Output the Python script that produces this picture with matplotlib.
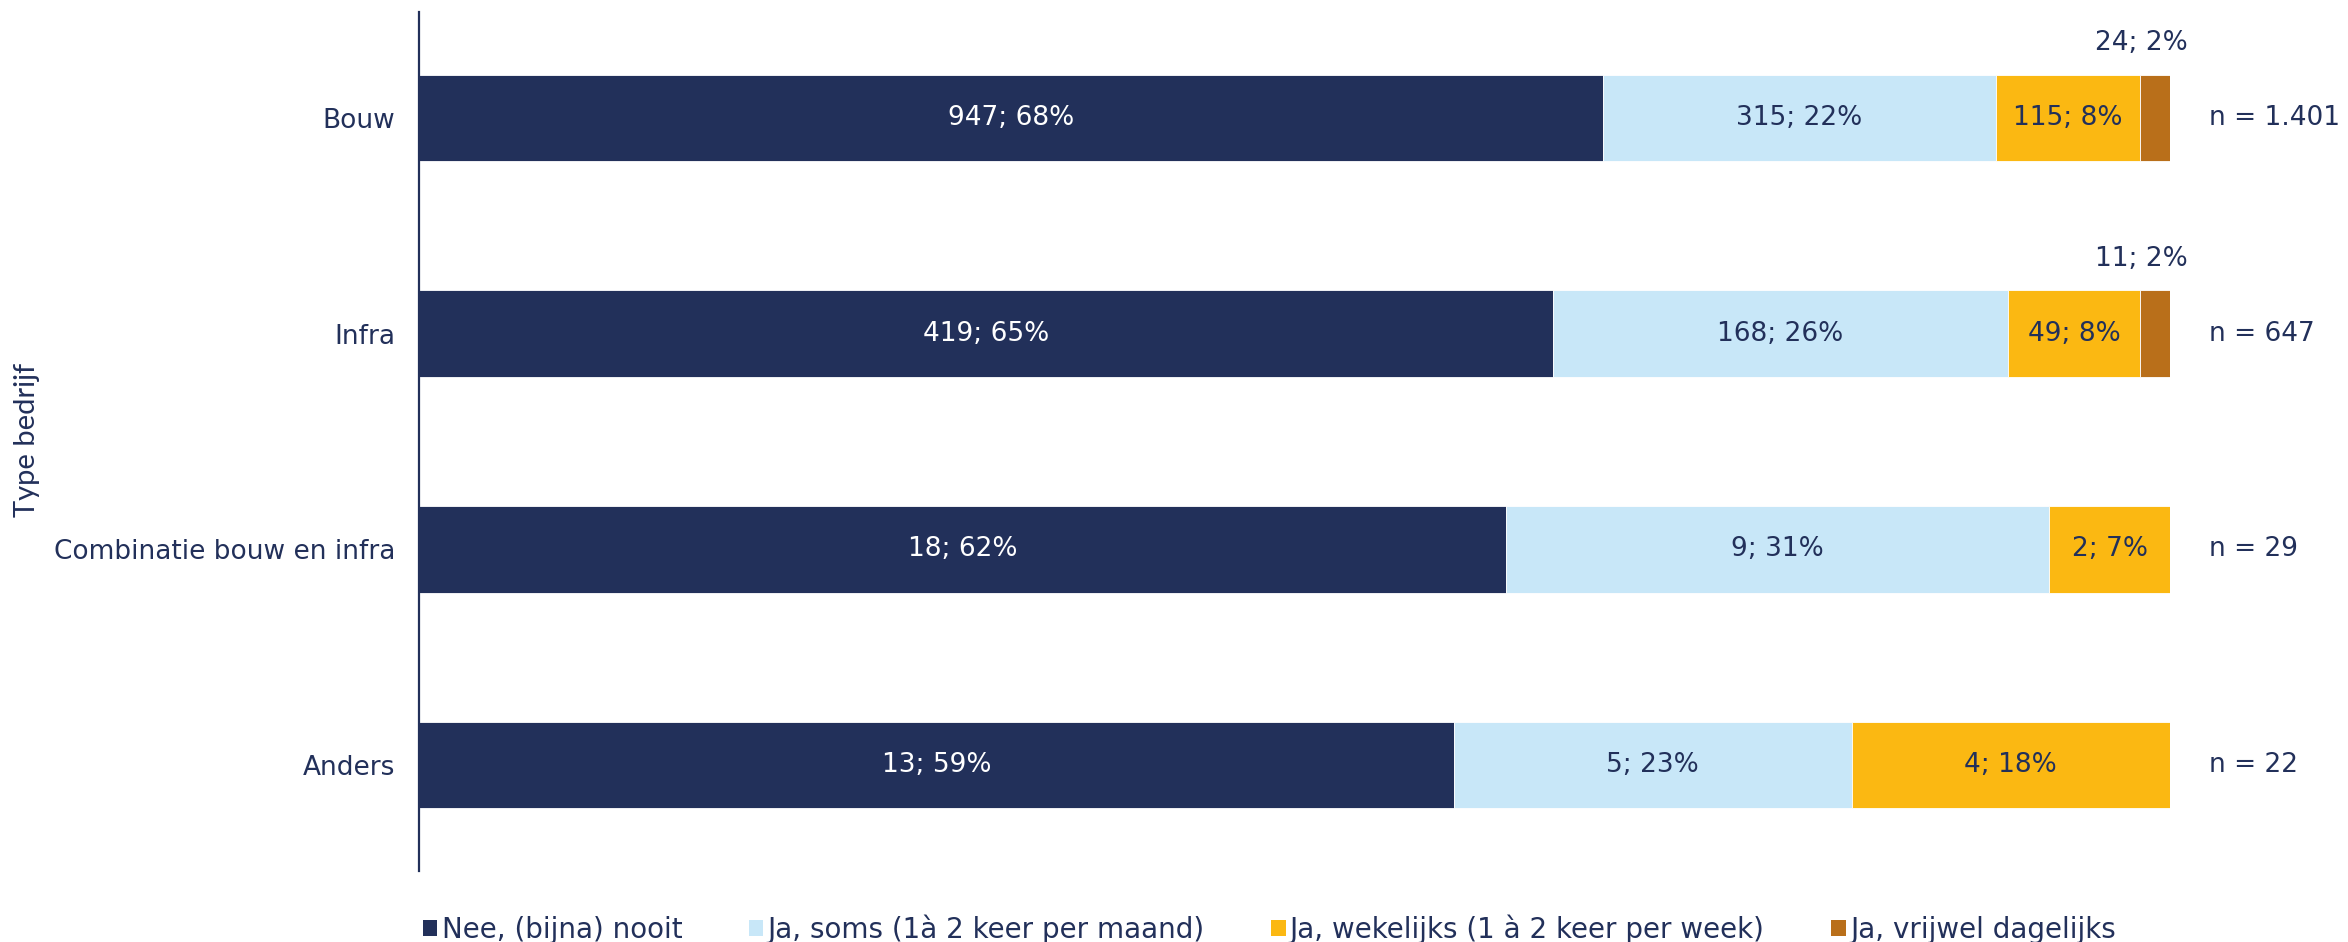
import numpy as np
import matplotlib.pyplot as plt
from matplotlib.patches import Patch

# Data
categorieen = ["Bouw", "Infra", "Combinatie bouw en infra", "Anders"]
reeksen = ["Nee, (bijna) nooit", "Ja, soms (1à 2 keer per maand)",
           "Ja, wekelijks (1 à 2 keer per week)", "Ja, vrijwel dagelijks"]
nooit = [947, 419, 18, 13]
soms = [315, 168, 9, 5]
wekelijks = [115, 49, 2, 4]
dagelijks = [24, 11, 0, 0]

KLEUREN = ["#22305A", "#C8E7F8", "#FBB812", "#B96F1A"]
TEKST = "#22305A"
FS = 19

aantallen = np.array([nooit, soms, wekelijks, dagelijks], dtype=float)
totaal = aantallen.sum(axis=0)
aandeel = aantallen / totaal

fig = plt.figure(figsize=(23.48, 9.42), dpi=100)
ax = fig.add_axes([419 / 2348, 1 - 871 / 942, (2170 - 419) / 2348, (871 - 12) / 942])

y = np.arange(len(categorieen))
hoogte = 0.40
links = np.zeros(len(categorieen))
for i, (naam, kleur) in enumerate(zip(reeksen, KLEUREN)):
    ax.barh(y, aandeel[i], left=links, height=hoogte, color=kleur,
            edgecolor="white", linewidth=0.6, label=naam)
    for j in range(len(categorieen)):
        if aantallen[i, j] == 0:
            continue
        tekst = f"{int(aantallen[i, j])}; {round(aandeel[i, j] * 100)}%"
        midden = links[j] + aandeel[i, j] / 2
        if i == 3:
            # kleine segmenten: label boven de balk
            ax.annotate(tekst, (midden, y[j] - hoogte / 2), xytext=(-10, 22.5),
                        textcoords="offset points", ha="center", va="center",
                        fontsize=FS, color=TEKST)
        else:
            ax.text(midden, y[j], tekst, ha="center", va="center", fontsize=FS,
                    color="white" if i == 0 else TEKST)
    links += aandeel[i]

# n = ... rechts van de balken
for j, n in enumerate(totaal):
    ax.annotate("n = " + f"{int(n):,}".replace(",", "."), (1, y[j]),
                xytext=(28, 0), textcoords="offset points", ha="left",
                va="center", fontsize=FS, color=TEKST)

ax.set_xlim(0, 1)
ax.set_ylim(len(categorieen) - 0.51, -0.49)
ax.set_yticks(y)
ax.set_yticklabels(categorieen, fontsize=FS, color=TEKST)
ax.tick_params(axis="y", length=0, pad=17)
ax.xaxis.set_visible(False)
for s in ["top", "right", "bottom"]:
    ax.spines[s].set_visible(False)
ax.spines["left"].set_color(TEKST)
ax.spines["left"].set_linewidth(1.6)

fig.text(27 / 2348, 1 - 440 / 942, "Type bedrijf", rotation=90, ha="center",
         va="center", fontsize=21, color=TEKST, family="Lato")

handles = [Patch(facecolor=k, edgecolor="none") for k in KLEUREN]
fig.legend(handles, reeksen, loc="center left", bbox_to_anchor=(423 / 2348, 1 - 929 / 942),
           ncol=4, frameon=False, fontsize=20, labelcolor=TEKST,
           handlelength=0.52, handleheight=0.52, handletextpad=0.15,
           columnspacing=2.4, borderpad=0, borderaxespad=0)

fig.savefig("out.png", dpi=100)
